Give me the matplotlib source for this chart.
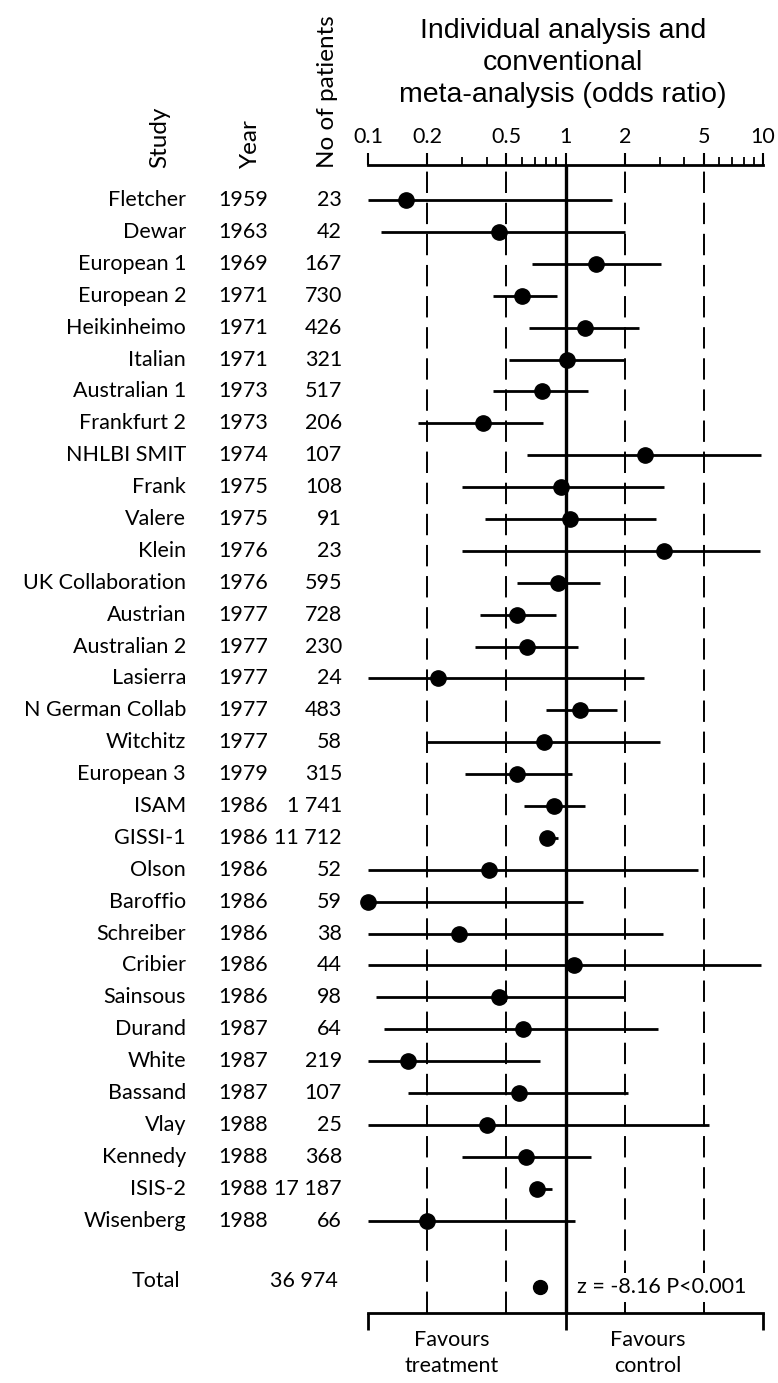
import matplotlib
matplotlib.use("Agg")
from matplotlib import pyplot as plt
from matplotlib.transforms import blended_transform_factory
from matplotlib.ticker import LogLocator, NullFormatter, NullLocator

plt.rcParams["font.family"] = ["Lato", "DejaVu Sans"]

studies = ["Fletcher", "Dewar", "European 1", "European 2", "Heikinheimo", "Italian",
           "Australian 1", "Frankfurt 2", "NHLBI SMIT", "Frank", "Valere", "Klein",
           "UK Collaboration", "Austrian", "Australian 2", "Lasierra", "N German Collab",
           "Witchitz", "European 3", "ISAM", "GISSI-1", "Olson", "Baroffio", "Schreiber",
           "Cribier", "Sainsous", "Durand", "White", "Bassand", "Vlay", "Kennedy",
           "ISIS-2", "Wisenberg"]
years = ["1959", "1963", "1969", "1971", "1971", "1971", "1973", "1973", "1974", "1975",
         "1975", "1976", "1976", "1977", "1977", "1977", "1977", "1977", "1979", "1986",
         "1986", "1986", "1986", "1986", "1986", "1986", "1987", "1987", "1987", "1988",
         "1988", "1988", "1988"]
patients = ["23", "42", "167", "730", "426", "321", "517", "206", "107", "108", "91", "23",
            "595", "728", "230", "24", "483", "58", "315", "1 741", "11 712", "52", "59",
            "38", "44", "98", "64", "219", "107", "25", "368", "17 187", "66"]
odds = [0.155, 0.46, 1.42, 0.60, 1.25, 1.02, 0.76, 0.38, 2.54, 0.95, 1.06, 3.16,
        0.92, 0.57, 0.64, 0.226, 1.19, 0.78, 0.57, 0.87, 0.81, 0.41, 0.10, 0.29,
        1.11, 0.46, 0.61, 0.16, 0.58, 0.40, 0.63, 0.72, 0.20]
lower = [0.10, 0.117, 0.68, 0.43, 0.65, 0.52, 0.43, 0.18, 0.64, 0.30, 0.39, 0.30,
         0.57, 0.37, 0.35, 0.10, 0.80, 0.198, 0.31, 0.62, 0.76, 0.10, 0.10, 0.10,
         0.10, 0.11, 0.12, 0.10, 0.16, 0.10, 0.30, 0.68, 0.10]
upper = [1.71, 2.0, 3.03, 0.91, 2.35, 1.97, 1.30, 0.77, 9.8, 3.14, 2.87, 9.7,
         1.49, 0.90, 1.16, 2.5, 1.82, 3.0, 1.08, 1.26, 0.92, 4.7, 1.23, 3.1,
         9.8, 1.98, 2.94, 0.74, 2.08, 5.3, 1.35, 0.85, 1.12]

total_patients = "36 974"
total_odds = 0.74
z_text = "z = -8.16 P<0.001"

tick_vals = [0.1, 0.2, 0.5, 1, 2, 5, 10]
tick_labels = ["0.1", "0.2", "0.5", "1", "2", "5", "10"]
dash_vals = [0.2, 0.5, 2, 5]

W, H = 778, 1383
fig = plt.figure(figsize=(W / 100, H / 100), dpi=100)

# axes box in pixel coordinates of the reference
x0, x1 = 368, 763
y_top, y_bot = 165, 1313
ax = fig.add_axes([x0 / W, 1 - y_bot / H, (x1 - x0) / W, (y_bot - y_top) / H])

rows = list(range(len(studies)))
total_row = 34.1

ax.set_xscale("log")
ax.set_xlim(0.1, 10)
ax.set_ylim(34.9, -1.1)

# reference lines
ax.axvline(1, color="black", lw=2.4, zorder=2)
for v in dash_vals:
    ax.axvline(v, color="black", lw=1.4, dashes=(11, 5), zorder=1)

# confidence intervals and point estimates
ax.hlines(rows, lower, upper, color="black", lw=2, zorder=3)
ax.plot(odds, rows, "o", color="black", ms=11, zorder=4, clip_on=False)
ax.plot([total_odds], [total_row], "o", color="black", ms=10, zorder=4)

# top axis
for s in ["left", "right", "bottom"]:
    ax.spines[s].set_visible(False)
ax.spines["top"].set_linewidth(2)
ax.xaxis.set_ticks_position("top")
ax.xaxis.set_label_position("top")
ax.set_xticks(tick_vals, tick_labels)
ax.xaxis.set_minor_locator(LogLocator(base=10, subs=range(2, 10)))
ax.xaxis.set_minor_formatter(NullFormatter())
ax.tick_params(axis="x", which="major", direction="out", length=9, width=1.5,
               labelsize=15.5, pad=4)
ax.tick_params(axis="x", which="minor", direction="out", length=6, width=1.3)
ax.set_yticks([])

# bottom axis
sec = ax.secondary_xaxis("bottom")
sec.set_xticks([0.1, 1, 10], ["", "", ""])
sec.xaxis.set_minor_locator(NullLocator())
sec.xaxis.set_minor_formatter(NullFormatter())
sec.tick_params(axis="x", which="major", direction="out", length=12, width=2)
sec.spines["bottom"].set_linewidth(2)

# title
fig.text(563 / W, 1 - 63 / H,
         "Individual analysis and\nconventional\nmeta-analysis (odds ratio)",
         ha="center", va="center", fontsize=20.5, linespacing=1.3,
         family=["Liberation Sans Narrow", "Liberation Sans", "DejaVu Sans"])

# column headers
hdr_y = 1 - 168 / H
fig.text(160 / W, hdr_y, "Study", rotation=90, ha="center", va="bottom", fontsize=17.5)
fig.text(250 / W, hdr_y, "Year", rotation=90, ha="center", va="bottom", fontsize=17.5)
fig.text(328 / W, hdr_y, "No of patients", rotation=90, ha="center", va="bottom", fontsize=17.5)

# table columns
tr = blended_transform_factory(fig.transFigure, ax.transData)
for r, name, yr, n in zip(rows, studies, years, patients):
    ax.text(186 / W, r, name, transform=tr, ha="right", va="center", fontsize=15.5)
    ax.text(243 / W, r, yr, transform=tr, ha="center", va="center", fontsize=15.5)
    ax.text(342 / W, r, n, transform=tr, ha="right", va="center", fontsize=15.5)
ax.text(180 / W, total_row - 0.2, "Total", transform=tr, ha="right", va="center", fontsize=15.5)
ax.text(338 / W, total_row - 0.2, total_patients, transform=tr, ha="right", va="center",
        fontsize=15.5)

ax.text(1.15, total_row, z_text, ha="left", va="center", fontsize=15.5, zorder=5,
        bbox=dict(facecolor="white", edgecolor="none", pad=3))

fig.text(452 / W, 1 - 1353 / H, "Favours\ntreatment", ha="center", va="center",
         fontsize=15.5, linespacing=1.35)
fig.text(648 / W, 1 - 1353 / H, "Favours\ncontrol", ha="center", va="center",
         fontsize=15.5, linespacing=1.35)

fig.savefig("out.png", dpi=100)
